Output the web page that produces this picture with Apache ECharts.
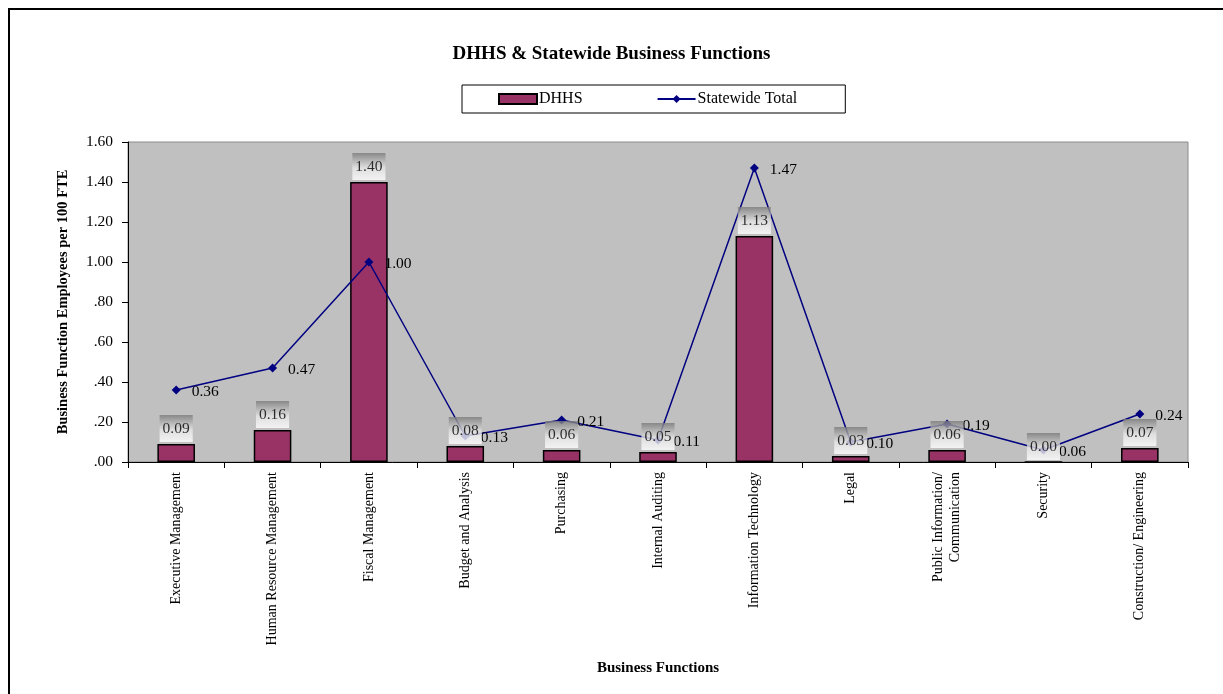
<!DOCTYPE html>
<html>
<head>
<meta charset="utf-8">
<script src="https://cdn.jsdelivr.net/npm/echarts@6/dist/echarts.min.js"></script>
<style>
html,body{margin:0;padding:0;background:#fff;}
#chart{width:1223px;height:694px;}
</style>
</head>
<body>
<div id="chart"></div>
<script>
const categories = ["Executive Management","Human Resource Management","Fiscal Management","Budget and Analysis","Purchasing","Internal Auditing","Information Technology","Legal","Public Information/\nCommunication","Security","Construction/ Engineering"];
const dhhsValues = [0.09,0.16,1.40,0.08,0.06,0.05,1.13,0.03,0.06,0.00,0.07];
const statewideValues = [0.36,0.47,1.00,0.13,0.21,0.11,1.47,0.10,0.19,0.06,0.24];
const yTicks = {min:0, max:1.6, interval:0.2};

const FONT = '"Liberation Serif", "Times New Roman", serif';
const chart = echarts.init(document.getElementById('chart'));
const labelBg = new echarts.graphic.LinearGradient(0,0,0,1,[
  {offset:0,color:'#7a7a7a'},{offset:0.55,color:'#e6e6e6'},{offset:1,color:'#ffffff'}
]);
chart.setOption({
  animation:false,
  backgroundColor:'#ffffff',
  textStyle:{fontFamily:FONT,color:'#000'},
  graphic:[{
    type:'rect', z:100, silent:true,
    shape:{x:9,y:9,width:1400,height:1000},
    style:{fill:'none',stroke:'#000',lineWidth:2}
  }],
  title:{
    text:'DHHS & Statewide Business Functions',
    left:'center', top:40,
    textStyle:{fontFamily:FONT,fontSize:19,fontWeight:'bold',color:'#000'}
  },
  legend:{
    data:[{name:'DHHS',icon:'rect'},{name:'Statewide Total'}],
    left:462, top:85,
    padding:[6,48,6,36],
    itemGap:74,
    itemWidth:38, itemHeight:10,
    backgroundColor:'#fff', borderColor:'#000', borderWidth:1,
    textStyle:{fontFamily:FONT,fontSize:16,color:'#000',padding:[0,0,0,-3]},
    selectedMode:false
  },
  grid:{
    left:128, right:35, top:142, bottom:232,
    show:true, backgroundColor:'#c0c0c0', borderColor:'#8c8c8c', borderWidth:1
  },
  xAxis:{
    type:'category', data:categories,
    name:'Business Functions', nameLocation:'middle', nameGap:199,
    nameTextStyle:{fontFamily:FONT,fontSize:15,fontWeight:'bold',color:'#000'},
    axisLine:{lineStyle:{color:'#000',width:1}},
    axisTick:{show:true,length:6,lineStyle:{color:'#000'}},
    axisLabel:{rotate:90,interval:0,margin:10,fontFamily:FONT,fontSize:14,color:'#000',lineHeight:17}
  },
  yAxis:{
    type:'value', min:yTicks.min, max:yTicks.max, interval:yTicks.interval,
    name:'Business Function Employees per 100 FTE', nameLocation:'middle', nameGap:57,
    nameTextStyle:{fontFamily:FONT,fontSize:14.5,fontWeight:'bold',color:'#000'},
    axisLine:{show:true,lineStyle:{color:'#000',width:1}},
    axisTick:{show:true,length:6,lineStyle:{color:'#000'}},
    splitLine:{show:false},
    axisLabel:{fontFamily:FONT,fontSize:15.5,color:'#000',margin:15,
      formatter:v=>v.toFixed(2).replace(/^0/,'')}
  },
  series:[
    {
      name:'DHHS', type:'bar', data:dhhsValues, barWidth:'39%', z:2,
      itemStyle:{color:'#993366',borderColor:'#000',borderWidth:1.5}
    },
    {
      name:'Statewide Total', type:'line', data:statewideValues, z:3,
      symbol:'diamond', symbolSize:9,
      lineStyle:{color:'#000080',width:1.5},
      itemStyle:{color:'#000080'},
      label:{show:true,position:'right',distance:11,offset:[0,2],
        fontFamily:FONT,fontSize:15.5,color:'#000',
        formatter:p=>p.value.toFixed(2)}
    },
    {
      name:'DHHS labels', type:'scatter', data:dhhsValues, z:5, silent:true,
      symbolSize:0, itemStyle:{color:'rgba(0,0,0,0)'},
      label:{show:true,position:'top',distance:2,
        fontFamily:FONT,fontSize:15.5,color:'#000',
        backgroundColor:labelBg,padding:[6,3,5,3],
        formatter:p=>p.value.toFixed(2)}
    }
  ]
});
</script>
</body>
</html>
